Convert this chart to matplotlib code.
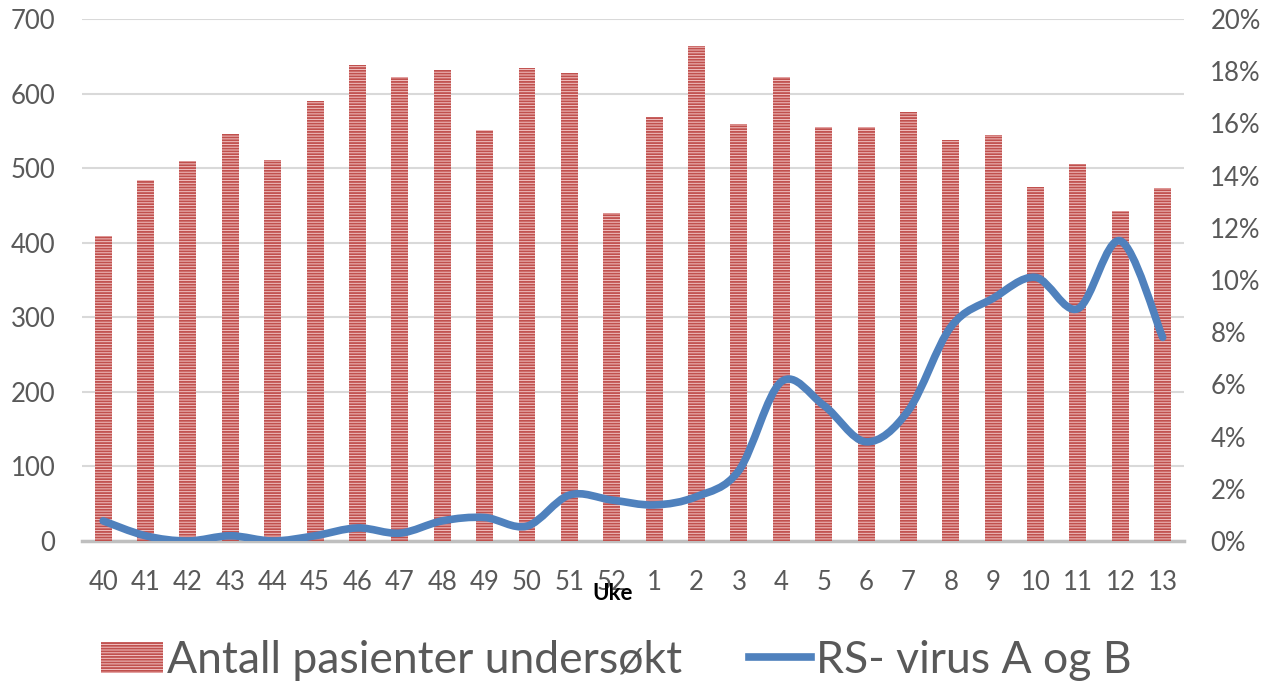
import numpy as np
import matplotlib
matplotlib.use("Agg")
import matplotlib.pyplot as plt
from matplotlib.path import Path
from matplotlib.patches import PathPatch
from matplotlib.lines import Line2D
from matplotlib.patches import Patch

plt.rcParams['font.family'] = ['Lato', 'DejaVu Sans']
plt.rcParams['hatch.linewidth'] = 1.3

# Data
uker = ["40", "41", "42", "43", "44", "45", "46", "47", "48", "49", "50", "51", "52",
        "1", "2", "3", "4", "5", "6", "7", "8", "9", "10", "11", "12", "13"]
antall = [409, 484, 510, 546, 511, 590, 638, 622, 632, 551, 634, 628, 440,
          569, 664, 559, 622, 555, 555, 575, 538, 544, 475, 505, 443, 474]
rs_virus = [0.77, 0.2, 0.0, 0.2, 0.0, 0.2, 0.5, 0.3, 0.77, 0.9, 0.57, 1.76, 1.57,
            1.38, 1.7, 2.7, 6.1, 5.2, 3.8, 5.0, 8.2, 9.3, 10.1, 8.9, 11.5, 7.8]

grey = "#595959"
fig = plt.figure(figsize=(12.73, 6.88), dpi=100)
ax = fig.add_axes([0.0644, 0.2137, 0.8656, 0.7587])
x = np.arange(len(uker))

ax.bar(x, antall, width=0.4, color="#F2C4C4", edgecolor="#C0504D",
       linewidth=0, hatch="------", zorder=2)
ax.set_xlim(-0.5, len(uker) - 0.5)
ax.set_ylim(0, 700)
ax.set_yticks(range(0, 701, 100))
ax.set_xticks(x)
ax.set_xticklabels(uker)
ax.yaxis.grid(True, color="#D9D9D9", linewidth=1.5, zorder=0)
ax.set_axisbelow(True)
for s in ["top", "right", "left"]:
    ax.spines[s].set_visible(False)
ax.spines["bottom"].set_color("#BFBFBF")
ax.spines["bottom"].set_linewidth(2.5)
ax.spines["bottom"].set_zorder(1)
ax.tick_params(axis="both", length=0, labelsize=18.5, labelcolor=grey)
ax.tick_params(axis="y", pad=19)
ax.tick_params(axis="x", pad=21)

ax2 = ax.twinx()
ax2.set_ylim(0, 20)
ax2.set_yticks(range(0, 21, 2))
ax2.set_yticklabels([f"{v}%" for v in range(0, 21, 2)])
for s in ax2.spines.values():
    s.set_visible(False)
ax2.tick_params(axis="y", length=0, labelsize=18.5, labelcolor=grey, pad=19)

# smoothed line (Catmull-Rom style bezier, like Excel)
pts = np.column_stack([x, rs_virus]).astype(float)
ext = np.vstack([pts[0], pts, pts[-1]])
verts = [tuple(pts[0])]
codes = [Path.MOVETO]
for i in range(len(pts) - 1):
    p0, p1, p2, p3 = ext[i], ext[i + 1], ext[i + 2], ext[i + 3]
    c1 = p1 + (p2 - p0) / 6
    c2 = p2 - (p3 - p1) / 6
    verts += [tuple(c1), tuple(c2), tuple(p2)]
    codes += [Path.CURVE4] * 3
ax2.add_patch(PathPatch(Path(verts, codes), facecolor="none", edgecolor="#4F81BD",
                        linewidth=5.5, capstyle="round", joinstyle="round", zorder=3))

fig.text(0.4815, 0.138, "Uke", fontsize=16, fontweight="bold", color="black",
         ha="center", va="center")

handles = [Patch(facecolor="#F2C4C4", edgecolor="#C0504D", linewidth=0, hatch="------"),
           Line2D([0], [0], color="#4F81BD", linewidth=5.5)]
fig.legend(handles, ["Antall pasienter undersøkt", "RS- virus A og B"],
           loc="center", bbox_to_anchor=(0.484, 0.04), ncol=2, frameon=False,
           fontsize=32, labelcolor=grey, handlelength=1.4, handletextpad=0.1,
           columnspacing=1.5)

fig.savefig("out.png", dpi=100)
